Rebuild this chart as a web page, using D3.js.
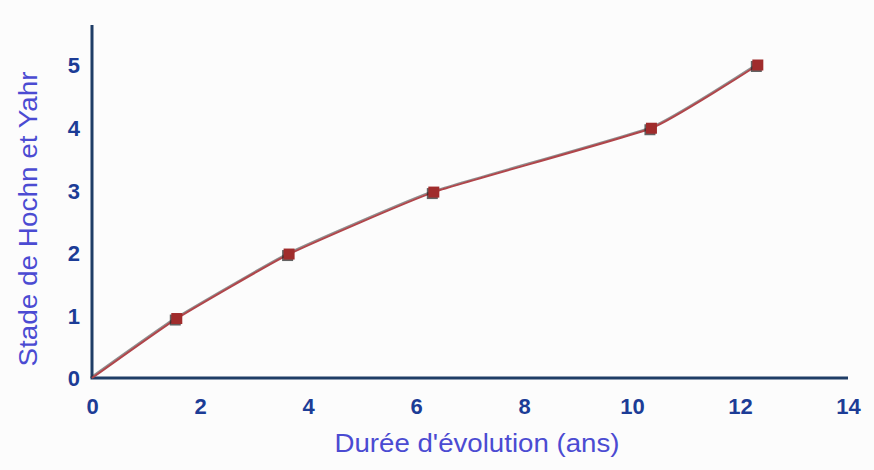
<!DOCTYPE html>
<html>
<head>
<meta charset="utf-8">
<script src="https://cdn.jsdelivr.net/npm/d3@7"></script>
<style>
html,body{margin:0;padding:0;background:#fff;}
svg{display:block;}
</style>
</head>
<body>
<script>
// Data
const years  = [0, 1.57, 3.65, 6.33, 10.36, 12.33];
const stages = [0, 0.95, 1.98, 2.97, 3.99, 5.0];
const xTicks = [0, 2, 4, 6, 8, 10, 12, 14];
const yTicks = [0, 1, 2, 3, 4, 5];
const xTitle = "Durée d'évolution (ans)";
const yTitle = "Stade de Hochn et Yahr";

const W = 874, H = 470;
const svg = d3.select("body").append("svg").attr("width", W).attr("height", H);
svg.append("rect").attr("width", W).attr("height", H).attr("fill", "#fcfcfc");

const x = d3.scaleLinear().domain([0, 14]).range([92, 848]);
const y = d3.scaleLinear().domain([0, 5]).range([378, 65]);
const yTop = 25;

const axisColor = "#1f3d66";
const tickColor = "#1c3c96";
const titleColor = "#4b4bd2";
const font = "'Liberation Sans', Arial, sans-serif";

// axis lines
svg.append("line").attr("x1", x(0)).attr("x2", x(0)).attr("y1", yTop).attr("y2", y(0))
  .attr("stroke", axisColor).attr("stroke-width", 3);
svg.append("line").attr("x1", x(0) - 1.5).attr("x2", x(14)).attr("y1", y(0)).attr("y2", y(0))
  .attr("stroke", axisColor).attr("stroke-width", 3);

// tick labels via d3 axes (no tick lines / domain)
const xAxis = d3.axisBottom(x).tickValues(xTicks).tickSize(0).tickPadding(20).tickFormat(d3.format("d"));
const gx = svg.append("g").attr("transform", `translate(0,${y(0)})`).call(xAxis);
gx.select(".domain").remove();
gx.selectAll("text").style("font-family", font).style("font-weight", "bold")
  .style("font-size", "22px").attr("fill", tickColor);

const yAxis = d3.axisLeft(y).tickValues(yTicks).tickSize(0).tickPadding(12).tickFormat(d3.format("d"));
const gy = svg.append("g").attr("transform", `translate(${x(0)},0)`).call(yAxis);
gy.select(".domain").remove();
gy.selectAll("text").style("font-family", font).style("font-weight", "bold")
  .style("font-size", "22px").attr("fill", tickColor).attr("dy", "0.36em");

// titles
svg.append("text").attr("x", 477).attr("y", 452).attr("text-anchor", "middle")
  .attr("font-family", font).attr("font-size", 25).attr("fill", titleColor)
  .attr("textLength", 285).attr("lengthAdjust", "spacingAndGlyphs").text(xTitle);
svg.append("text").attr("transform", "translate(37,219) rotate(-90)").attr("text-anchor", "middle")
  .attr("font-family", font).attr("font-size", 25).attr("fill", titleColor)
  .attr("textLength", 295).attr("lengthAdjust", "spacingAndGlyphs").text(yTitle);

// line
const pts = years.map((d, i) => [d, stages[i]]);
const line = d3.line().x(d => x(d[0])).y(d => y(d[1])).curve(d3.curveCardinal.tension(0.6));
svg.append("path").datum(pts).attr("d", line).attr("fill", "none")
  .attr("stroke", "#333").attr("stroke-opacity", 0.55).attr("stroke-width", 1.6)
  .attr("transform", "translate(-0.8,-1)");
svg.append("path").datum(pts).attr("d", line).attr("fill", "none")
  .attr("stroke", "#b0454a").attr("stroke-width", 2);

// markers
const s = 11;
const mk = pts.slice(1);
svg.selectAll("rect.sh").data(mk).join("rect").attr("class", "sh")
  .attr("x", d => x(d[0]) - s / 2 - 1.5).attr("y", d => y(d[1]) - s / 2 + 1.5)
  .attr("width", s).attr("height", s).attr("fill", "#222").attr("opacity", 0.7);
svg.selectAll("rect.mk").data(mk).join("rect").attr("class", "mk")
  .attr("x", d => x(d[0]) - s / 2).attr("y", d => y(d[1]) - s / 2)
  .attr("width", s).attr("height", s).attr("fill", "#a02c2c");
</script>
</body>
</html>
